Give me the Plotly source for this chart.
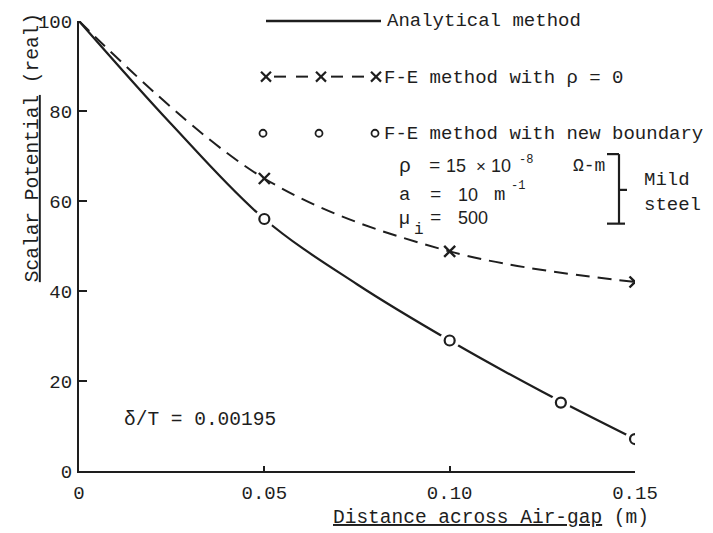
import plotly.graph_objects as go

# ---- data ----
x_analytical = [0.0, 0.025, 0.05, 0.075, 0.10, 0.125, 0.15]
y_analytical = [100, 77, 56, 41.5, 29, 17.6, 7.1]

x_fe_new = [0.05, 0.10, 0.13, 0.15]
y_fe_new = [56, 29, 15.2, 7.1]

x_fe_rho0 = [0.0, 0.05, 0.10, 0.15]
y_fe_rho0 = [100, 65, 48.8, 42]

x_tickvals = [0, 0.05, 0.10, 0.15]
x_ticktext = ["0", "0.05", "0.10", "0.15"]
y_tickvals = [0, 20, 40, 60, 80, 100]

INK = "#1e1e1e"
MONO = "Liberation Mono, Courier New, monospace"
SANS = "Liberation Sans, Arial, sans-serif"

W, H = 713, 533
L, R, T, B = 79, 78, 18, 62
PW, PH = W - L - R, H - T - B


def px(x):
    return (x - L) / PW


def py(y):
    return (H - B - y) / PH


fig = go.Figure()

fig.add_trace(go.Scatter(x=x_analytical, y=y_analytical, mode="lines",
                         line=dict(color=INK, width=2.2, shape="spline"),
                         showlegend=False, hoverinfo="skip"))
# white halo that breaks the line around the circles
fig.add_trace(go.Scatter(x=x_fe_new, y=y_fe_new, mode="markers",
                         marker=dict(symbol="circle", size=20, color="white",
                                     line=dict(width=0)),
                         showlegend=False, hoverinfo="skip"))
fig.add_trace(go.Scatter(x=x_fe_new, y=y_fe_new, mode="markers",
                         marker=dict(symbol="circle-open", size=10, color=INK,
                                     line=dict(width=2.2, color=INK)),
                         showlegend=False))
fig.add_trace(go.Scatter(x=x_fe_rho0, y=y_fe_rho0, mode="lines",
                         line=dict(color=INK, width=2, shape="spline",
                                   dash="14px,8px"),
                         showlegend=False, hoverinfo="skip"))
fig.add_trace(go.Scatter(x=x_fe_rho0[1:], y=y_fe_rho0[1:], mode="markers",
                         marker=dict(symbol="x-thin", size=11, color=INK,
                                     line=dict(width=2.4, color=INK)),
                         showlegend=False))

shapes = []
annotations = []


def line_shape(x0, y0, x1, y1, w=2):
    shapes.append(dict(type="line", xref="paper", yref="paper",
                       x0=px(x0), y0=py(y0), x1=px(x1), y1=py(y1),
                       line=dict(color=INK, width=w)))


def text(s, x, y, size=19, font=MONO, xanchor="left", angle=0):
    annotations.append(dict(text=s, xref="paper", yref="paper", x=px(x), y=py(y),
                            xanchor=xanchor, yanchor="middle", showarrow=False,
                            textangle=angle,
                            font=dict(family=font, size=size, color=INK)))


# legend row 1
line_shape(266, 18, 381, 18, 2.4)
text("Analytical method", 385, 18)

# legend row 2
for cx in (266, 321, 376):
    line_shape(cx - 5, 69, cx + 5, 79, 2.2)
    line_shape(cx - 5, 79, cx + 5, 69, 2.2)
for a, b in ((274, 286), (296, 308), (331, 343), (352, 364)):
    line_shape(a, 74, b, 74, 2)
text("F-E method with ρ = 0", 382, 75)

# legend row 3
for cx in (263, 319, 375):
    shapes.append(dict(type="circle", xref="paper", yref="paper",
                       x0=px(cx - 3.5), x1=px(cx + 3.5),
                       y0=py(131 + 3.5), y1=py(131 - 3.5),
                       line=dict(color=INK, width=1.8)))
text("F-E method with new boundary", 382, 132)

# material parameters
text("ρ", 397, 164, size=20)
text("=", 427, 164, size=19)
text("15", 444, 164, size=18, font=SANS)
text("×", 474, 164, size=17, font=SANS)
text("10", 489, 164, size=18, font=SANS)
text("-8", 517, 158, size=12, font=MONO)
text("Ω-m", 571, 164, size=18)

text("a", 397, 193, size=19)
text("=", 428, 193, size=19)
text("10", 456, 193, size=18, font=SANS)
text("m", 492, 193, size=19)
text("-1", 509, 184, size=12, font=MONO)

text("μ", 397, 216, size=19, font=SANS)
text("i", 412, 228, size=16)
text("=", 428, 216, size=19)
text("500", 456, 216, size=18, font=SANS)

# bracket
line_shape(607, 152, 619, 152, 2.2)
line_shape(619, 152, 619, 222, 2.2)
line_shape(607, 222, 625, 222, 2.2)
line_shape(619, 188, 627, 188, 2.2)
text("Mild", 642, 178, size=19)
text("steel", 642, 203, size=19)

# delta/T note
text("δ/T = 0.00195", 122, 420, size=19.5)

# axis titles
text("<u>Scalar Potential</u> (real)", 33, 146, size=19.5, xanchor="center", angle=-90)
text("<u>Distance across Air-gap</u> (m)", 491, 518, size=19.5, xanchor="center")

fig.update_layout(
    width=W, height=H,
    margin=dict(l=L, r=R, t=T, b=B),
    paper_bgcolor="white", plot_bgcolor="white",
    shapes=shapes, annotations=annotations,
    showlegend=False,
    xaxis=dict(range=[0, 0.15], tickvals=x_tickvals, ticktext=x_ticktext,
               ticks="inside", ticklen=5, tickwidth=2, tickcolor=INK,
               showline=True, linewidth=2.2, linecolor=INK,
               showgrid=False, zeroline=False, ticklabelstandoff=3,
               tickfont=dict(family=MONO, size=19, color=INK)),
    yaxis=dict(range=[0, 100], tickvals=y_tickvals,
               ticks="inside", ticklen=8, tickwidth=2, tickcolor=INK,
               showline=True, linewidth=2.2, linecolor=INK,
               showgrid=False, zeroline=False, ticklabelstandoff=1,
               tickfont=dict(family=MONO, size=19, color=INK)),
)

fig.write_html("out.html",
               config={"displayModeBar": False},
               post_script="document.body.style.margin='0px';document.body.style.overflow='hidden';")
